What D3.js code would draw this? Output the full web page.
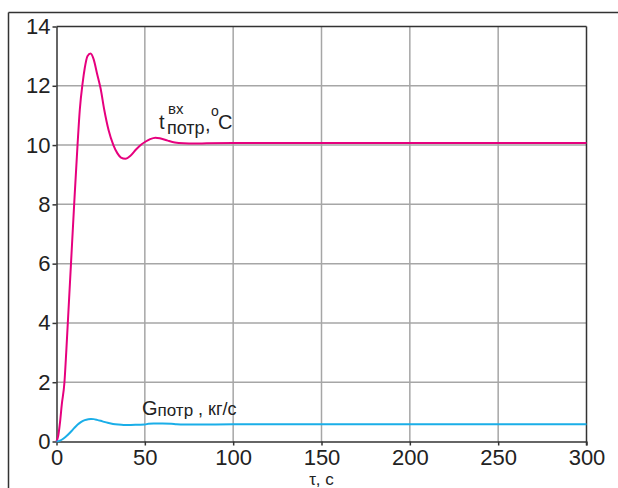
<!DOCTYPE html>
<html>
<head>
<meta charset="utf-8">
<script src="https://cdn.jsdelivr.net/npm/d3@7"></script>
<style>
  html, body { margin: 0; padding: 0; background: #fff; }
  svg { display: block; font-family: "Liberation Sans", Arial, sans-serif; }
</style>
</head>
<body>
<svg id="chart" width="618" height="488"></svg>
<script>
// ---- data ----
const xTicks = [0, 50, 100, 150, 200, 250, 300];
const yTicks = [0, 2, 4, 6, 8, 10, 12, 14];

const tempTime = [0, 1, 2, 3, 4.5, 5.5, 6.4, 8.2, 10, 11.9, 13.2, 14.8, 16, 17.5, 19.3, 21, 23, 25, 27, 29.5, 32.2, 34.5, 36.5, 39, 42, 45, 48, 50.5, 53, 56, 59, 63, 67, 72, 78, 85, 100, 150, 200, 250, 300];
const tempValues = [0, 0.2, 0.65, 1.25, 2, 3, 4, 6, 8, 10, 11.2, 12.1, 12.6, 13.0, 13.09, 12.9, 12.4, 11.9, 11.2, 10.5, 10.0, 9.72, 9.58, 9.54, 9.65, 9.85, 10.02, 10.12, 10.2, 10.25, 10.22, 10.15, 10.09, 10.06, 10.05, 10.06, 10.07, 10.07, 10.07, 10.07, 10.07];

const flowTime = [0, 2, 4, 6, 8, 10, 12, 14, 16, 18, 19.5, 21, 23, 26, 29, 32, 35, 38, 42, 46, 50, 52, 55, 60, 65, 68, 72, 80, 100, 300];
const flowValues = [0, 0.03, 0.1, 0.2, 0.32, 0.45, 0.57, 0.66, 0.72, 0.75, 0.76, 0.755, 0.73, 0.68, 0.63, 0.59, 0.57, 0.56, 0.56, 0.565, 0.57, 0.6, 0.61, 0.61, 0.6, 0.585, 0.575, 0.575, 0.58, 0.58];

// ---- layout ----
const svg = d3.select("#chart");
const L = 56.5, R = 586.5, T = 26.5, B = 441.5;
const x = d3.scaleLinear().domain([0, 300]).range([L, R]);
const y = d3.scaleLinear().domain([0, 14]).range([B, T]);

// outer frame (partial)
svg.append("line").attr("x1", 8.5).attr("x2", 618).attr("y1", 12.5).attr("y2", 12.5)
  .attr("stroke", "#333").attr("stroke-width", 1.5);
svg.append("line").attr("x1", 8.5).attr("x2", 8.5).attr("y1", 12.5).attr("y2", 488)
  .attr("stroke", "#333").attr("stroke-width", 1.5);

// grid
const grid = svg.append("g").attr("stroke", "#a6a6a6").attr("stroke-width", 1.5);
grid.selectAll("line.v").data(xTicks.filter(d => d > 0 && d < 300)).enter().append("line")
  .attr("x1", d => x(d)).attr("x2", d => x(d)).attr("y1", T).attr("y2", B);
grid.selectAll("line.h").data(yTicks.filter(d => d > 0 && d < 14)).enter().append("line")
  .attr("x1", L).attr("x2", R).attr("y1", d => y(d)).attr("y2", d => y(d));

// axes
const fontSize = 22;
const xAxis = svg.append("g").attr("transform", `translate(0,${B})`)
  .call(d3.axisBottom(x).tickValues(xTicks).tickSize(4).tickPadding(4).tickSizeOuter(0));
const yAxis = svg.append("g").attr("transform", `translate(${L},0)`)
  .call(d3.axisLeft(y).tickValues(yTicks).tickSize(4).tickPadding(2).tickSizeOuter(0));
[xAxis, yAxis].forEach(a => {
  a.select(".domain").attr("stroke", "#333").attr("stroke-width", 1.5);
  a.selectAll(".tick line").attr("stroke", "#333").attr("stroke-width", 1.5);
  a.selectAll(".tick text").attr("font-size", fontSize).attr("fill", "#222")
    .attr("font-family", "'Liberation Sans', Arial, sans-serif");
});
// top and right border of plot
svg.append("line").attr("x1", L).attr("x2", R).attr("y1", T).attr("y2", T)
  .attr("stroke", "#333").attr("stroke-width", 1.5);
svg.append("line").attr("x1", R).attr("x2", R).attr("y1", T).attr("y2", B + 4)
  .attr("stroke", "#333").attr("stroke-width", 1.5);

// lines
const line = d3.line().x(d => x(d[0])).y(d => y(d[1])).curve(d3.curveMonotoneX);
svg.append("path").datum(d3.zip(tempTime, tempValues))
  .attr("d", line).attr("fill", "none").attr("stroke", "#e6007e").attr("stroke-width", 2);
svg.append("path").datum(d3.zip(flowTime, flowValues))
  .attr("d", line).attr("fill", "none").attr("stroke", "#1aaee8").attr("stroke-width", 2);

// labels
svg.append("text").attr("x", 159).attr("y", 129).attr("fill", "#222").attr("font-size", 20).text("t");
svg.append("text").attr("x", 168).attr("y", 114).attr("fill", "#222").attr("font-size", 15).text("вх");
svg.append("text").attr("x", 167).attr("y", 134).attr("fill", "#222").attr("font-size", 18).text("потр");
svg.append("text").attr("x", 205).attr("y", 131).attr("fill", "#222").attr("font-size", 20).text(",");
svg.append("text").attr("x", 211).attr("y", 116).attr("fill", "#222").attr("font-size", 14).text("o");
svg.append("text").attr("x", 218).attr("y", 129).attr("fill", "#222").attr("font-size", 20).text("C");

const gl = svg.append("text").attr("x", 142).attr("y", 415).attr("fill", "#222").attr("font-size", 20);
gl.append("tspan").text("G");
gl.append("tspan").text("потр").attr("font-size", 17).attr("dy", 1);
gl.append("tspan").text(" , кг/с").attr("dy", -1).attr("font-size", 18);

svg.append("text").attr("x", x(150)).attr("y", 485).attr("text-anchor", "middle")
  .attr("fill", "#222").attr("font-size", 17).text("τ, с");
</script>
</body>
</html>
